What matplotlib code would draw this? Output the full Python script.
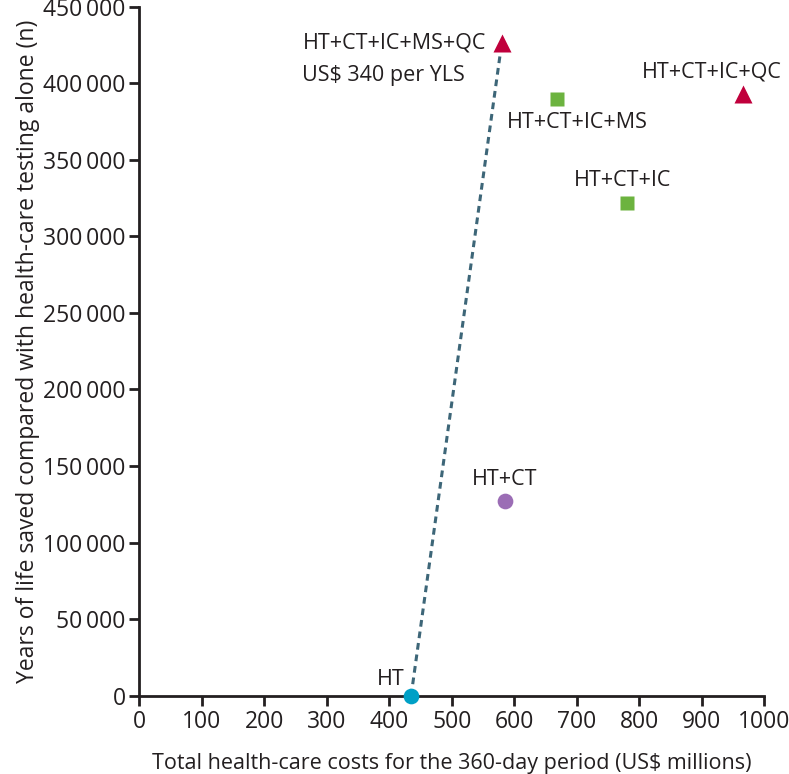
import matplotlib
matplotlib.use("Agg")
import matplotlib.pyplot as plt
from matplotlib.ticker import FuncFormatter

plt.rcParams['font.family'] = ['Open Sans', 'DejaVu Sans']

# Data
strategies = ["HT", "HT+CT", "HT+CT+IC", "HT+CT+IC+MS", "HT+CT+IC+QC", "HT+CT+IC+MS+QC"]
costs = [435, 585, 781, 668, 966, 580]          # US$ millions
yls = [0, 127000, 322000, 390000, 393000, 426000]  # years of life saved
markers = ["o", "o", "s", "s", "^", "^"]
colors = ["#00A0C6", "#9B6DB5", "#6CB33F", "#6CB33F", "#C0003C", "#C0003C"]
msizes = [11.3, 11.3, 10.6, 10.6, 13.5, 13.5]
frontier = ["HT", "HT+CT+IC+MS+QC"]
icer_label = "US$ 340 per YLS"

xticks = list(range(0, 1001, 100))
yticks = list(range(0, 450001, 50000))

fig = plt.figure(figsize=(7.89, 7.74), dpi=100)
ax = fig.add_axes([0.1767, 0.1012, 0.7916, 0.8901])

# efficiency frontier line
fx = [costs[strategies.index(s)] for s in frontier]
fy = [yls[strategies.index(s)] for s in frontier]
ax.plot(fx, fy, color="#3D6678", lw=2.2, ls=(0, (2.2, 1.6)), zorder=2)

for x, y, m, c, ms in zip(costs, yls, markers, colors, msizes):
    ax.plot([x], [y], marker=m, color=c, ms=ms, mec='none', ls='none', zorder=3, clip_on=False)

# labels
label_offsets = {
    "HT": (-5, 12, "right", "center"),
    "HT+CT": (0, 16, "center", "center"),
    "HT+CT+IC": (-3, 16, "center", "center"),
    "HT+CT+IC+MS": (15, -17, "center", "center"),
    "HT+CT+IC+QC": (-22, 16, "center", "center"),
    "HT+CT+IC+MS+QC": (-11, 0, "right", "center"),
}
fs = 15.5
for s, x, y in zip(strategies, costs, yls):
    dx, dy, ha, va = label_offsets[s]
    ax.annotate(s, (x, y), xytext=(dx, dy), textcoords="offset points",
                ha=ha, va=va, fontsize=fs, color="#231F20")
ax.annotate(icer_label, (costs[-1], yls[-1]), xytext=(-144, -23), textcoords="offset points",
            ha="left", va="center", fontsize=fs, color="#231F20")

ax.set_xlim(0, 1000)
ax.set_ylim(0, 450000)
ax.set_xticks(xticks)
ax.set_yticks(yticks)
ax.yaxis.set_major_formatter(FuncFormatter(
    lambda v, p: "0" if v == 0 else f"{int(v)//1000}\u2009{int(v)%1000:03d}"))

for sp in ["top", "right"]:
    ax.spines[sp].set_visible(False)
for sp in ["left", "bottom"]:
    ax.spines[sp].set_linewidth(2)
    ax.spines[sp].set_color("#231F20")
ax.tick_params(axis="both", direction="out", length=7, width=2, color="#231F20",
               labelsize=16.5, labelcolor="#231F20", pad=3)

ax.set_xlabel("Total health-care costs for the 360-day period (US$ millions)",
              fontsize=15.5, color="#231F20", labelpad=14)
ax.set_ylabel("Years of life saved compared with health-care testing alone (n)",
              fontsize=16.5, color="#231F20", labelpad=2)

fig.savefig("out.png", dpi=100)
